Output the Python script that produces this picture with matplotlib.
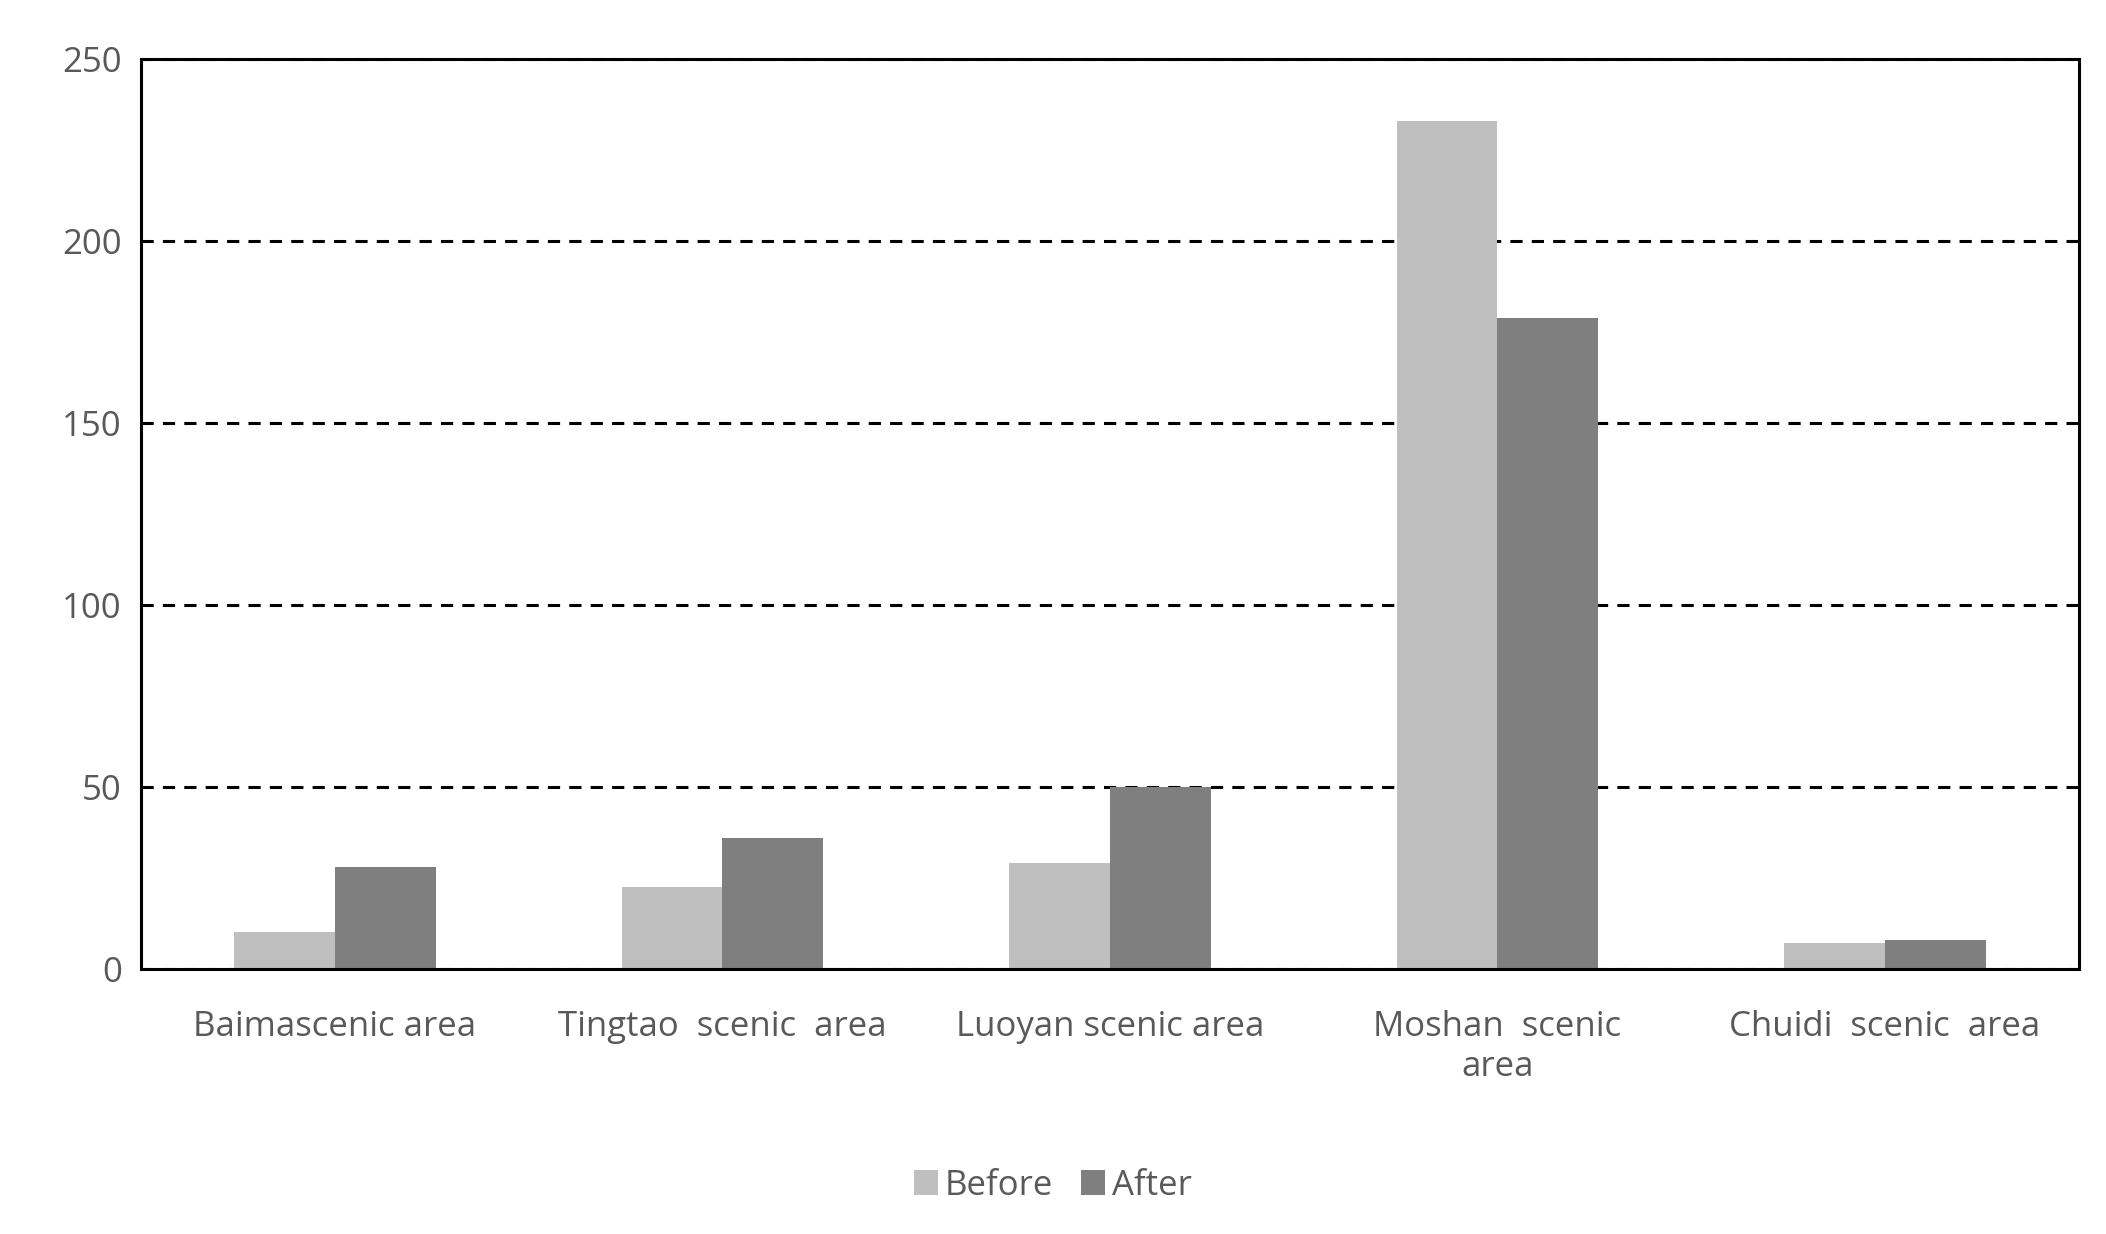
import matplotlib.pyplot as plt
import numpy as np

plt.rcParams['font.family'] = ['Open Sans', 'DejaVu Sans']

categories = ["Baimascenic area", "Tingtao  scenic  area", "Luoyan scenic area",
              "Moshan  scenic\narea", "Chuidi  scenic  area"]
before = [10, 22.5, 29, 233, 7]
after = [28, 36, 50, 179, 8]

fig = plt.figure(figsize=(21.06, 12.34), dpi=100)
ax = fig.add_axes([0.067, 0.215, 0.92, 0.737])

x = np.arange(len(categories))
w = 0.26
ax.bar(x - w / 2, before, w, color='#bfbfbf', label='Before')
ax.bar(x + w / 2, after, w, color='#7f7f7f', label='After')

ax.set_xlim(-0.5, len(categories) - 0.5)
ax.set_ylim(0, 250)
ax.set_yticks(range(0, 251, 50))
ax.yaxis.grid(True, linestyle=(0, (4, 3)), color='black', linewidth=2.2)
ax.set_axisbelow(True)
for s in ax.spines.values():
    s.set_linewidth(2.2)
ax.tick_params(length=0, labelsize=25, labelcolor='#595959', pad=14)
ax.set_xticks(x)
ax.set_xticklabels(categories, linespacing=1.2)
for lab in ax.get_xticklabels():
    lab.set_verticalalignment('top')
ax.tick_params(axis='x', pad=30)

fig.legend(loc='lower center', bbox_to_anchor=(0.5, 0.0), ncol=2, frameon=False,
           fontsize=25, labelcolor='#595959', handlelength=0.7, handleheight=0.7,
           handletextpad=0.2, columnspacing=0.8)

fig.savefig('out.png', dpi=100)
